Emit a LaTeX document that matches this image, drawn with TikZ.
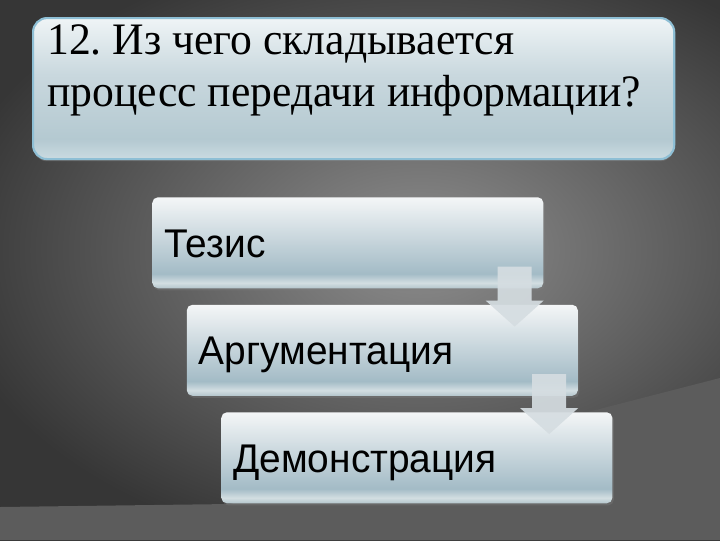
\documentclass[tikz,border=0pt]{standalone}
\usepackage{fontspec}
\setmainfont[FakeStretch=0.97]{Liberation Serif}
\setsansfont[FakeStretch=0.97]{Liberation Sans}
\usetikzlibrary{positioning,calc,shadows}
\definecolor{walldark}{HTML}{363636}
\definecolor{wallhi}{HTML}{8E8E8E}
\definecolor{floorgray}{HTML}{5C5C5C}
\definecolor{titleline}{HTML}{8EBFD5}
\definecolor{arrowfill}{HTML}{D5DDE1}
\definecolor{stepedge}{HTML}{B3C5CC}
\definecolor{steplight}{HTML}{D3DEE2}
\definecolor{stepmid}{HTML}{A3BBC6}
\definecolor{steptop}{HTML}{F4F6F7}
\definecolor{titleedge}{HTML}{CADBE1}
\definecolor{titlelow}{HTML}{B4C9D1}
\definecolor{titlemid}{HTML}{C9D8DE}
\definecolor{titletop}{HTML}{EFF4F6}
\pgfdeclareverticalshading{stepshade}{100bp}{color(0bp)=(stepedge); color(25bp)=(stepedge);
  color(28bp)=(steplight); color(33bp)=(stepmid); color(75bp)=(steptop); color(100bp)=(steptop)}
\pgfdeclareverticalshading{titleshade}{100bp}{color(0bp)=(titleedge); color(25bp)=(titleedge);
  color(32bp)=(titlelow); color(55bp)=(titlemid); color(75bp)=(titletop); color(100bp)=(titletop)}
\begin{document}
\begin{tikzpicture}[x=0.025cm,y=-0.025cm,
stepbox/.style={
  shading=stepshade,
  rounded corners=4pt,
  minimum width=9.775cm,
  minimum height=2.275cm,
  text width=9.175cm,
  inner xsep=0.3cm,
  align=left,
  text height=20.5pt,
  text depth=0pt,
  font=\sffamily\fontsize{28.5}{30}\selectfont,
  anchor=north west,
  drop shadow={shadow xshift=1pt, shadow yshift=-1.5pt, opacity=.35}},
titlebox/.style={
  shading=titleshade,
  draw=titleline,
  line width=1.5pt,
  rounded corners=10pt,
  minimum width=16.025cm,
  minimum height=3.525cm,
  anchor=north west,
  drop shadow={shadow xshift=0pt, shadow yshift=-1.5pt, opacity=.5}},
qtext/.style={
  align=left,
  inner sep=0pt,
  anchor=north west,
  font=\fontsize{32}{37}\selectfont},
downarrow/.style={
  fill=arrowfill,
  fill opacity=.92}
]
\useasboundingbox (0,0) rectangle (720,540);
\begin{scope}
  \clip (0,0) rectangle (720,540);
  \shade[inner color=wallhi, outer color=walldark] (-60,-60) rectangle (900,560);
  \fill[floorgray] (0,507) -- (230,504) -- (720,378) -- (720,540) -- (0,540) -- cycle;
\end{scope}
\node[titlebox] (title) at (32,17) {};
\node[qtext] (q) at ($(title.north west)+(15,7)$) {12.\ Из чего складывается\\процесс передачи информации?};
\node[stepbox] (tez) at (152,197) {Тезис};
\node[stepbox] (arg) at ($(tez.north west)+(34.5,107.5)$) {Аргументация};
\node[stepbox] (dem) at ($(arg.north west)+(34.5,107.5)$) {Демонстрация};
\foreach \Box in {tez,arg}
  \fill[downarrow, shift={(\Box.south east)}]
    (-46,-22) -- (-12,-22) -- (-12,12) -- (0,12) -- (-29,38) -- (-58,12) -- (-46,12) -- cycle;
\end{tikzpicture}
\end{document}
